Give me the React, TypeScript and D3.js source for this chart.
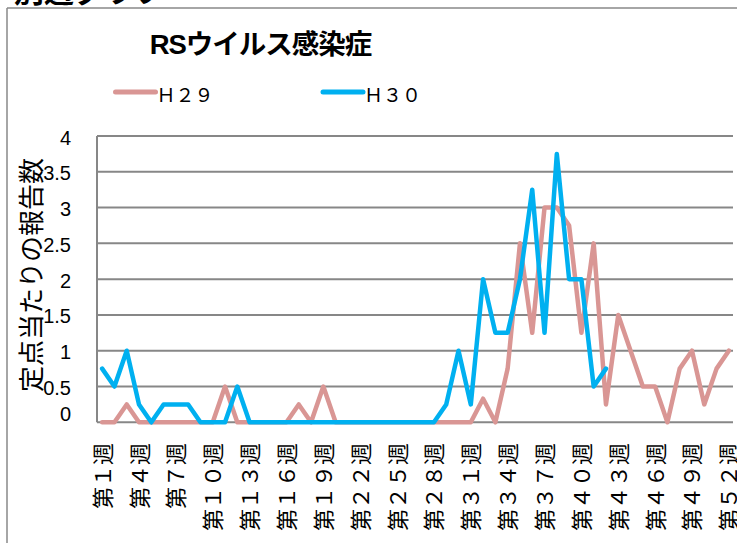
import React from "react";
import * as d3 from "d3";

const weeks: string[] = [
  "第１週","第２週","第３週","第４週","第５週","第６週","第７週","第８週","第９週","第１０週",
  "第１１週","第１２週","第１３週","第１４週","第１５週","第１６週","第１７週","第１８週","第１９週","第２０週",
  "第２１週","第２２週","第２３週","第２４週","第２５週","第２６週","第２７週","第２８週","第２９週","第３０週",
  "第３１週","第３２週","第３３週","第３４週","第３５週","第３６週","第３７週","第３８週","第３９週","第４０週",
  "第４１週","第４２週","第４３週","第４４週","第４５週","第４６週","第４７週","第４８週","第４９週","第５０週",
  "第５１週","第５２週",
];

const h29: number[] = [
  0, 0, 0.25, 0, 0, 0, 0, 0, 0, 0,
  0.5, 0, 0, 0, 0, 0, 0.25, 0, 0.5, 0,
  0, 0, 0, 0, 0, 0, 0, 0, 0, 0,
  0, 0.33, 0, 0.75, 2.5, 1.25, 3.0, 3.0, 2.75, 1.25,
  2.5, 0.25, 1.5, 1.0, 0.5, 0.5, 0, 0.75, 1.0, 0.25,
  0.75, 1.0,
];

const h30: number[] = [
  0.75, 0.5, 1.0, 0.25, 0, 0.25, 0.25, 0.25, 0, 0,
  0, 0.5, 0, 0, 0, 0, 0, 0, 0, 0,
  0, 0, 0, 0, 0, 0, 0, 0, 0.25, 1.0,
  0.25, 2.0, 1.25, 1.25, 2.0, 3.25, 1.25, 3.75, 2.0, 2.0,
  0.5, 0.75,
];

const yTicks: number[] = [0, 0.5, 1, 1.5, 2, 2.5, 3, 3.5, 4];
const seriesNames: string[] = ["Ｈ２９", "Ｈ３０"];
const seriesColors: string[] = ["#D99694", "#00B0F0"];
const title = "RSウイルス感染症";
const yTitle = "定点当たりの報告数";

const W = 737;
const H = 543;
const plotLeft = 97;
const plotRight = 733;

export default function App() {
  const x = d3.scaleBand<string>().domain(weeks).range([96, 735]).paddingInner(0).paddingOuter(0);
  const y = d3.scaleLinear().domain([0, 4]).range([422.3, 136]);
  const cx = (i: number) => (x(weeks[i]) as number) + x.bandwidth() / 2;

  const line = d3
    .line<number>()
    .x((_, i) => cx(i))
    .y((d) => y(d));

  const labelWeeks = weeks.filter((_, i) => i % 3 === 0);
  const latin = "'Liberation Sans', Arial, 'Noto Sans CJK JP', sans-serif";
  const cjk = "'Noto Sans CJK JP', 'Liberation Sans', sans-serif";

  return (
    <svg
      width={W}
      height={H}
      viewBox={`0 0 ${W} ${H}`}
      style={{ position: "absolute", left: 0, top: 0, background: "#fff" }}
    >
      <rect x={0} y={0} width={W} height={H} fill="#fff" />
      {/* heading of the page above, cut off by the top edge */}
      <text x={14} y={2} fontFamily={cjk} fontWeight="bold" fontSize={30} fill="#000">
        別週グラフ
      </text>
      {/* chart frame */}
      <line x1={7} y1={8} x2={W} y2={8} stroke="#888" strokeWidth={1.5} />
      <line x1={7} y1={8} x2={7} y2={H} stroke="#888" strokeWidth={1.5} />

      {/* title */}
      <text
        x={260.5}
        y={53.5}
        textAnchor="middle"
        fontFamily={latin}
        fontWeight="bold"
        fontSize={27.5}
        letterSpacing={-1}
        fill="#000"
      >
        {title}
      </text>

      {/* legend */}
      {seriesNames.map((name, k) => {
        const lx = k === 0 ? 115.5 : 323;
        return (
          <g key={name}>
            <line x1={lx} y1={92} x2={lx + 40} y2={92} stroke={seriesColors[k]} strokeWidth={5} strokeLinecap="round" />
            <text x={lx + 41} y={101.7} fontFamily={cjk} fontSize={19} fill="#000">
              {name}
            </text>
          </g>
        );
      })}

      {/* gridlines */}
      {yTicks.map((t) => (
        <line key={t} x1={plotLeft} x2={plotRight} y1={y(t)} y2={y(t)} stroke="#878787" strokeWidth={2} />
      ))}
      <line x1={plotLeft} x2={plotLeft} y1={y(4)} y2={y(0)} stroke="#878787" strokeWidth={2} />

      {/* y tick labels */}
      {yTicks.map((t) => (
        <text
          key={t}
          x={71}
          y={y(t) + (t === 0 ? -8 : 1.5)}
          dy="0.35em"
          textAnchor="end"
          fontFamily={latin}
          fontSize={20}
          fill="#000"
        >
          {String(t)}
        </text>
      ))}

      {/* y axis title */}
      <text
        transform={`translate(29,275) rotate(-90)`}
        textAnchor="middle"
        dominantBaseline="central"
        fontFamily={cjk}
        fontSize={26}
        fill="#000"
      >
        {yTitle}
      </text>

      {/* x tick labels */}
      {labelWeeks.map((w) => (
        <text
          key={w}
          transform={`translate(${(x(w) as number) + x.bandwidth() / 2 - 1.5},443) rotate(-90)`}
          textAnchor="end"
          dominantBaseline="central"
          fontFamily={cjk}
          fontSize={22}
          fill="#000"
        >
          {w}
        </text>
      ))}

      {/* series */}
      <path d={line(h29) || ""} fill="none" stroke={seriesColors[0]} strokeWidth={4.5} strokeLinejoin="round" strokeLinecap="round" />
      <path d={line(h30) || ""} fill="none" stroke={seriesColors[1]} strokeWidth={4.5} strokeLinejoin="round" strokeLinecap="round" />
    </svg>
  );
}
